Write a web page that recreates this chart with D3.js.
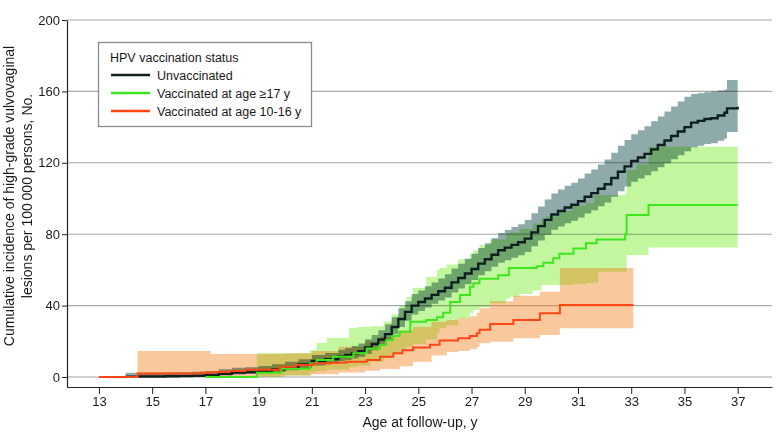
<!DOCTYPE html>
<html>
<head>
<meta charset="utf-8">
<script src="https://cdn.jsdelivr.net/npm/d3@7"></script>
<style>
  body { margin: 0; background: #fff; }
  svg { display: block; isolation: isolate; }
  text { font-family: "Liberation Sans", Arial, sans-serif; fill: #1a1a1a; }
</style>
</head>
<body>
<script>
// ---------------- DATA ----------------
const xTicks = [13, 15, 17, 19, 21, 23, 25, 27, 29, 31, 33, 35, 37];
const yTicks = [0, 40, 80, 120, 160, 200];

const seriesNames = ["Unvaccinated", "Vaccinated at age \u226517 y", "Vaccinated at age 10-16 y"];

// Unvaccinated: cumulative incidence and 95% CI
const uAge = [14,14.5,15,15.5,16,16.5,17,17.5,18,18.5,19,19.5,20,20.5,21,21.5,22,
  22.25,22.5,22.75,23,23.25,23.5,23.75,24,24.25,24.5,24.75,25,25.25,25.5,25.75,26,
  26.25,26.5,26.75,27,27.25,27.5,27.75,28,28.25,28.5,28.75,29,29.25,29.5,29.75,30,
  30.25,30.5,30.75,31,31.25,31.5,31.75,32,32.25,32.5,32.75,33,33.25,33.5,33.75,34,
  34.25,34.5,34.75,35,35.25,35.5,35.75,36,36.25,36.5,36.6,37];
const uVal = [0.2,0.3,0.3,0.4,0.5,0.7,1,1.8,2.5,2.8,3.4,4.3,5.5,7,9,10,11.5,
  12.3,13.2,14.5,16.5,18.5,21,24,28,32.5,36.5,40,42,44,46,48,50,
  53,55.5,58,60.5,63.5,66,68.5,71,72.5,74,75.5,77.5,81,84.5,88,91,
  93,95,96.5,98.5,101,103,105.5,108,111.5,115,118,121,123,125,127.5,130,
  132.5,135,137.5,140,142.5,143.5,144.5,145,146.5,148,150.5,151.4];
const uLo = [0,0,0,0,0,0.1,0.3,0.8,1.4,1.7,2.1,2.8,3.8,5,6.5,7.5,8.8,
  9.5,10.3,11.3,13,15,17.5,20.5,24,28,31.5,35,37,39,41,42.8,44.5,
  47.3,49.6,52,54.3,57,59.3,61.7,64,65.4,66.8,68.2,70,73.2,76.5,79.7,82.5,
  84.3,86.2,87.5,89.4,91.6,93.4,95.6,97.8,101,104,106.7,109.4,111.2,113,115.2,117.5,
  119.7,122,124.2,126.5,128.7,129.6,130.5,131,132.3,133.6,137.3,137.3];
const uHi = [2.4,2.4,2.4,2.5,2.6,2.9,3.3,4.3,5.2,5.5,6.2,7.2,8.5,10,12.3,13.5,15.2,
  16.2,17.3,18.8,21.2,23.5,26.2,29.5,33.5,38.5,42.5,46.5,48.5,50.8,53,55.2,57.5,
  60.8,63.5,66.2,69,72.3,75,77.8,80.7,82.3,84,85.6,88,91.8,95.5,99.5,102.8,
  105,107.2,108.8,111.2,114,116.3,119,121.8,125.6,129.5,132.8,136,138.3,140.5,143.3,146,
  148.8,151.5,154.3,157,158.5,159,159.5,160,160.5,161,166.4,166.4];

// Vaccinated at age >=17 y
const gAge = [17,18.93,19.85,20.93,21.18,21.8,22.56,23.06,23.56,23.8,24.05,24.3,24.7,25.3,25.7,
  25.93,26.2,26.57,26.94,27.07,27.3,28.0,28.4,29.45,29.7,30.07,30.3,30.83,31.3,31.7,32.77,32.83,33.65,37];
const gVal = [0,2.4,4.6,7.6,9.5,11.4,13.3,16,18,20.7,23,25.4,31,32,33.5,
  36,42,46,50.6,52.5,55,57,61,62,64,66.5,69,72,75,77,80,90.8,96.4,96.4];
const gBandAge = [18.93,19.85,20.93,21.18,21.56,22.4,22.7,23.2,23.7,24.0,24.3,24.56,24.8,25.3,25.7,25.8,
  26.07,26.5,26.94,27.07,27.3,27.7,28.3,28.45,28.8,29.3,29.63,29.8,30.3,30.8,31.3,31.6,31.76,32.77,32.83,33.2,33.65,37];
const gLo = [0.2,0.8,2.5,3.2,4,5.5,6.5,8.5,10.5,13,15.5,17,18.5,21,25,27.5,
  29,33,36,37.5,39,41.3,44,45,46.5,48.5,51.5,51.5,51.5,52,52.5,53,59,59,68.3,68.3,72.5,72.5];
const gHi = [13.3,13.3,15,19,22,27.5,28,28.5,31,35,40,45,50,56,60,61,
  63,66,69,71,74,77,80.5,81,83,86,88.5,90,93,96,97.5,102,102,102.9,116,119,129,129];

// Vaccinated at age 10-16 y
const oAge = [13,14.45,16.8,17.3,17.9,18.5,19.8,20.4,21.05,21.7,22.3,23.06,23.56,24.06,24.4,24.8,25.44,
  25.8,26.5,26.94,27.2,27.3,27.7,28.57,29.57,30.32,33.08];
const oVal = [0,2,2.4,2.8,3.4,4,5.8,6.7,7.6,8,8.6,9.5,11.4,13.3,15,16.5,18,
  20.5,21.7,23,24.5,26.5,29.7,31.9,35.7,40.3,40.3];
const oBandAge = [14.45,17.2,19,20,21,22,23,23.56,24.3,24.8,25.5,26.07,26.5,26.94,27.2,27.3,27.7,28.57,29.57,30.32,33.08];
const oLo = [0,0,0.3,0.8,1.5,2.5,3.5,4.5,6,8.5,12,14,14.5,15.5,17,18.9,19.8,21.7,23.5,27.3,27.3];
const oHi = [14.6,12.9,12.9,13.3,14.5,17,20,22.6,26,28.2,31,32,33,34,36,38.5,42.5,45.5,47.8,61,61];

// ---------------- CHART ----------------
const W = 780, H = 445;
const svg = d3.select("body").append("svg").attr("width", W).attr("height", H);
svg.append("rect").attr("width", W).attr("height", H).attr("fill", "#fff");

const x = d3.scaleLinear().domain([11.8, 38.29]).range([67, 772]);
const y = d3.scaleLinear().domain([-5.6, 200]).range([387, 20]);

// gridlines
svg.append("g").selectAll("line").data(yTicks).join("line")
  .attr("x1", x.range()[0]).attr("x2", x.range()[1])
  .attr("y1", d => y(d)).attr("y2", d => y(d))
  .attr("stroke", d => d === 0 ? "#d0d0d0" : "#a9a9a9")
  .attr("stroke-width", d => d === 0 ? 2 : 1.1);

const zip3 = (a, lo, hi) => a.map((t, i) => ({ t, lo: lo[i], hi: hi[i] }));
const zip2 = (a, v) => a.map((t, i) => ({ t, v: v[i] }));

const area = d3.area().x(d => x(d.t)).y0(d => y(d.lo)).y1(d => y(d.hi)).curve(d3.curveStepAfter);
const line = d3.line().x(d => x(d.t)).y(d => y(d.v)).curve(d3.curveStepAfter);

// bands
svg.append("path").datum(zip3(gBandAge, gLo, gHi)).attr("d", area)
  .attr("fill", "#c2f7a0").style("mix-blend-mode", "multiply");
svg.append("path").datum(zip3(oBandAge, oLo, oHi)).attr("d", area)
  .attr("fill", "rgb(240,117,8)").attr("fill-opacity", 0.4);
svg.append("path").datum(zip3(uAge, uLo, uHi)).attr("d", area)
  .attr("fill", "#8faaaa").style("mix-blend-mode", "multiply");

const colors = ["#0f1e1e", "#3ee61e", "#ff4716"];

// lines
svg.append("path").datum(zip2(uAge, uVal)).attr("d", line)
  .attr("fill", "none").attr("stroke", colors[0]).attr("stroke-width", 2.4);
svg.append("path").datum(zip2(gAge, gVal)).attr("d", line)
  .attr("fill", "none").attr("stroke", colors[1]).attr("stroke-width", 2);
svg.append("path").datum(zip2(oAge, oVal)).attr("d", line)
  .attr("fill", "none").attr("stroke", colors[2]).attr("stroke-width", 2);

// axes
const xAxis = svg.append("g").attr("transform", "translate(0,387)")
  .call(d3.axisBottom(x).tickValues(xTicks).tickSize(7).tickPadding(3).tickSizeOuter(0));
const yAxis = svg.append("g").attr("transform", "translate(67,0)")
  .call(d3.axisLeft(y).tickValues(yTicks).tickSize(5).tickPadding(2).tickSizeOuter(0));
[xAxis, yAxis].forEach(g => {
  g.selectAll(".domain").attr("stroke", "#222").attr("stroke-width", 1.2);
  g.selectAll(".tick line").attr("stroke", "#222");
  g.selectAll("text").attr("font-size", 13).attr("fill", "#1a1a1a")
    .style("font-family", "'Liberation Sans', Arial, sans-serif");
});

// axis titles
svg.append("text").attr("x", 420).attr("y", 426.5).attr("text-anchor", "middle")
  .attr("font-size", 14).text("Age at follow-up, y");
const yt = svg.append("text").attr("transform", "translate(14,196) rotate(-90)")
  .attr("text-anchor", "middle").attr("font-size", 14);
yt.append("tspan").attr("x", 0).attr("y", 0).text("Cumulative incidence of high-grade vulvovaginal");
yt.append("tspan").attr("x", 0).attr("y", 17.5).text("lesions per 100\u2009000 persons, No.");

// legend
const lg = svg.append("g");
lg.append("rect").attr("x", 98.5).attr("y", 42.5).attr("width", 213).attr("height", 84)
  .attr("fill", "#fff").attr("stroke", "#8c8c8c").attr("stroke-width", 1.3);
lg.append("text").attr("x", 110).attr("y", 61.5).attr("font-size", 12.5).text("HPV vaccination status");
seriesNames.forEach((n, i) => {
  const yy = 75 + i * 18;
  lg.append("line").attr("x1", 111).attr("x2", 150).attr("y1", yy).attr("y2", yy)
    .attr("stroke", colors[i]).attr("stroke-width", 2.6);
  lg.append("text").attr("x", 157).attr("y", yy + 4.5).attr("font-size", 12.5).text(n);
});
</script>
</body>
</html>
